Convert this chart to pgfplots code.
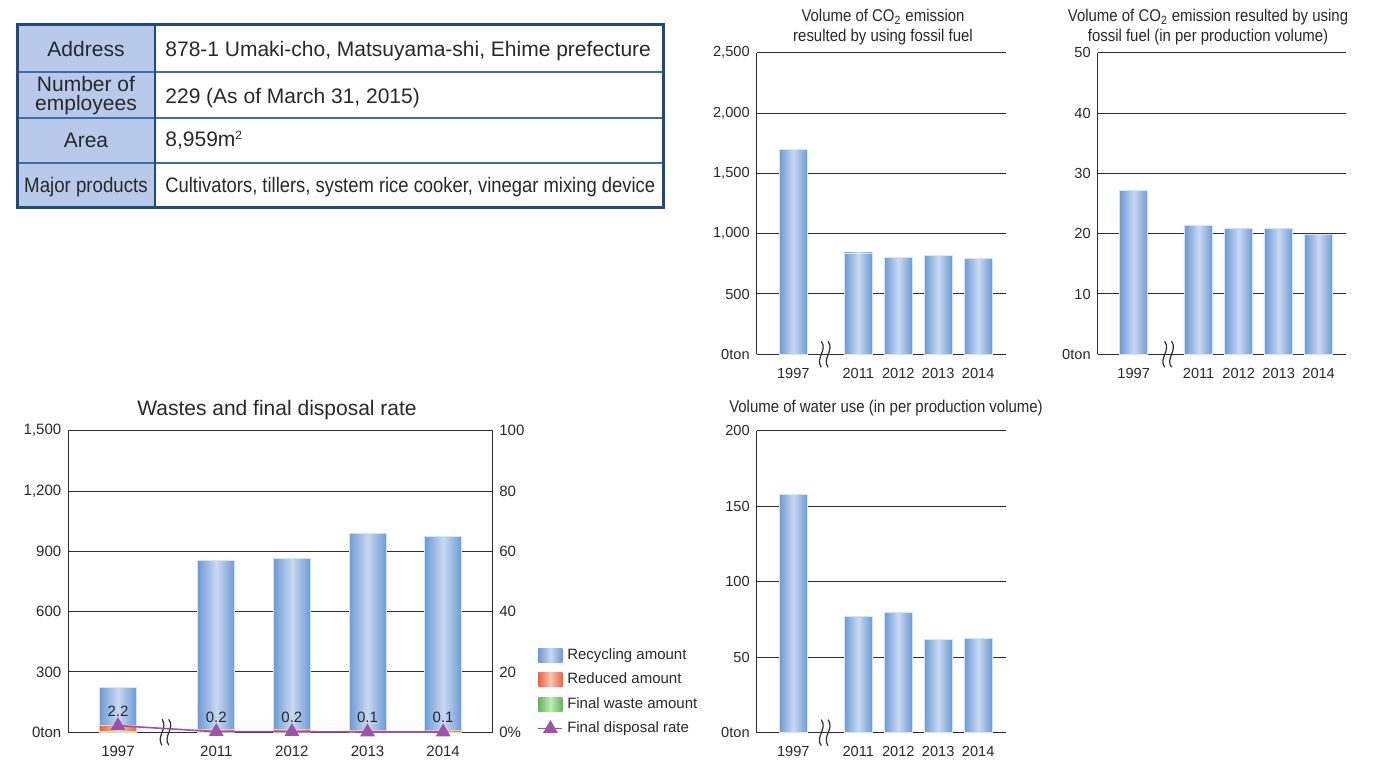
\documentclass[border=0pt]{standalone}
\usepackage{fontspec}
\setmainfont{Liberation Sans}
\usepackage{graphicx}
\usepackage{pgfplots}
\pgfplotsset{compat=1.18}

\definecolor{barE}{RGB}{108,154,214}
\definecolor{barC}{RGB}{202,217,241}
\definecolor{barL}{RGB}{215,228,246}
\definecolor{orE}{RGB}{238,98,66}
\definecolor{orC}{RGB}{250,196,176}
\definecolor{grE}{RGB}{98,184,88}
\definecolor{grC}{RGB}{196,232,186}
\definecolor{purp}{RGB}{158,82,168}
\definecolor{gridc}{RGB}{45,45,45}
\definecolor{textc}{RGB}{40,40,40}
\definecolor{tblfill}{RGB}{184,201,233}
\definecolor{tblborder}{RGB}{31,74,122}
\definecolor{tblline}{RGB}{62,110,165}

\newcommand{\tickfont}{\fontsize{7.3}{8}\selectfont}
\newcommand{\wtickfont}{\fontsize{7.5}{8.5}\selectfont}
\newcommand{\ttlfont}{\fontsize{8.5}{10}\selectfont}
\newcommand{\tblfont}{\fontsize{10.5}{9.5}\selectfont}
\newcommand{\cond}[1]{\scalebox{0.88}[1]{#1}}

% axis break sign on the x axis
\newcommand{\axbreak}[1]{%
  \draw[gridc, line width=0.6pt, shift={(axis cs:#1,0)}] (-1.8pt,6.5pt) .. controls (1.5pt,2pt) and (-5pt,-2pt) .. (-1.8pt,-6.5pt);
  \draw[gridc, line width=0.6pt, shift={(axis cs:#1,0)}] (1.6pt,6.5pt) .. controls (4.9pt,2pt) and (-1.6pt,-2pt) .. (1.6pt,-6.5pt);}

\pgfplotsset{
  envbar/.style={
    scale only axis, anchor=south west,
    axis x line*=bottom, axis y line*=left,
    axis line style={-, draw=gridc, line width=0.7pt},
    ymajorgrids, grid style={draw=gridc, line width=0.5pt},
    major tick length=0pt,
    ymin=0,
    xtick={0,1.625,2.625,3.625,4.625},
    xticklabels={1997,2011,2012,2013,2014},
    tick label style={font=\tickfont, text=textc},
    xticklabel style={yshift=-3.5pt},
    clip=false,
    /pgf/number format/assume math mode=true,
  },
  bluebar/.style={ybar, bar width=#1, draw=barL, line width=0.4pt,
    left color=barE, right color=barE, middle color=barC},
  bluebar/.default=0.7,
  redbar/.style={ybar, bar width=0.49, draw=orC, line width=0.4pt,
    left color=orE, right color=orE, middle color=orC},
  greenbar/.style={ybar, bar width=0.49, draw=grC, line width=0.4pt,
    left color=grE, right color=grE, middle color=grC},
  shadeleg/.style={legend image code/.code={\path[##1, draw=none] (0pt,-3.5pt) rectangle (12pt,3.5pt);}},
  rateleg/.style={legend image code/.code={\draw[mark repeat=2,mark phase=2,##1] plot coordinates {(0pt,0pt) (6pt,0pt) (12pt,0pt)};}},
}

\begin{document}
\begin{tikzpicture}[x=0.5pt,y=0.5pt]
\useasboundingbox (0,0) rectangle (1386,760);
\coordinate (pco2) at (756.7,405.7);
\coordinate (pco2u) at (1097.7,405.7);
\coordinate (pwat) at (756.7,27.3);
\coordinate (pwas) at (68.3,27.7);

% ---- company table
\fill[tblfill] (17,735) rectangle (155,552);
\foreach \yy in {688,642,597} \draw[tblline, line width=0.8pt] (17,\yy) -- (663,\yy);
\draw[tblborder, line width=1pt] (155,735) -- (155,552);
\draw[tblborder, line width=1.5pt] (17,735) rectangle (663,552);
\begin{scope}[every node/.style={font=\tblfont, text=textc, inner sep=0pt}]
\node[anchor=base] at (86,703) {Address};
\node[anchor=base] at (86,668) {Number of};
\node[anchor=base] at (86,649) {employees};
\node[anchor=base] at (86,612) {Area};
\node[anchor=base] at (86,567) {\scalebox{0.89}[1]{Major products}};
\node[anchor=base west] at (165,703) {878-1 Umaki-cho, Matsuyama-shi, Ehime prefecture};
\node[anchor=base west] at (165,656) {229 (As of March 31, 2015)};
\node[anchor=base west] at (165,613) {8,959m\textsuperscript{\fontsize{6}{6}\selectfont 2}};
\node[anchor=base west] at (165,567) {\scalebox{0.876}[1]{Cultivators, tillers, system rice cooker, vinegar mixing device}};
\end{scope}

% ---- titles
\node[font=\ttlfont, text=textc, align=center] at (883,733)
  {\cond{Volume of CO\textsubscript{2} emission}\\\cond{resulted by using fossil fuel}};
\node[font=\ttlfont, text=textc, align=center] at (1208,733)
  {\cond{Volume of CO\textsubscript{2} emission resulted by using}\\\cond{fossil fuel (in per production volume)}};
\node[font=\ttlfont, text=textc] at (886,352) {\cond{Volume of water use (in per production volume)}};
\node[font=\fontsize{10.5}{12}\selectfont, text=textc] at (277,350) {Wastes and final disposal rate};

% ---- CO2 emission
\begin{axis}[envbar, at={(pco2)}, width=124.65pt, height=150.8pt,
  xmin=-0.915, xmax=5.32, ymax=2500,
  ytick={0,500,1000,1500,2000,2500},
  yticklabels={0ton,500,{1,000},{1,500},{2,000},{2,500}}]
\addplot[bluebar] coordinates {(0,1700)};
\addplot[bluebar] coordinates {(1.625,840)};
\addplot[bluebar] coordinates {(2.625,800)};
\addplot[bluebar] coordinates {(3.625,823)};
\addplot[bluebar] coordinates {(4.625,793)};
\axbreak{0.79}
\end{axis}

% ---- CO2 emission per production volume
\begin{axis}[envbar, at={(pco2u)}, width=124.15pt, height=150.8pt,
  xmin=-0.9, xmax=5.31, ymax=50,
  ytick={0,10,20,30,40,50},
  yticklabels={0ton,10,20,30,40,50}]
\addplot[bluebar] coordinates {(0,27.1)};
\addplot[bluebar] coordinates {(1.625,21.3)};
\addplot[bluebar] coordinates {(2.625,20.8)};
\addplot[bluebar] coordinates {(3.625,20.9)};
\addplot[bluebar] coordinates {(4.625,19.9)};
\axbreak{0.865}
\end{axis}

% ---- water use
\begin{axis}[envbar, at={(pwat)}, width=124.65pt, height=151pt,
  xmin=-0.915, xmax=5.32, ymax=200,
  ytick={0,50,100,150,200},
  yticklabels={0ton,50,100,150,200}]
\addplot[bluebar] coordinates {(0,158)};
\addplot[bluebar] coordinates {(1.625,77)};
\addplot[bluebar] coordinates {(2.625,79.5)};
\addplot[bluebar] coordinates {(3.625,62)};
\addplot[bluebar] coordinates {(4.625,62.5)};
\axbreak{0.79}
\end{axis}

% ---- wastes: cumulative bar heights, tallest drawn first
\begin{axis}[at={(pwas)}, anchor=south west, scale only axis,
  width=212pt, height=150.8pt,
  xmin=-0.657, xmax=4.95, ymin=0, ymax=1500,
  axis line style={draw=gridc, line width=0.7pt},
  ymajorgrids, grid style={draw=gridc, line width=0.5pt},
  major tick length=0pt,
  xtick={0,1.3,2.3,3.3,4.3}, xticklabels={1997,2011,2012,2013,2014},
  ytick={0,300,600,900,1200,1500},
  yticklabels={0ton,300,600,900,{1,200},{1,500}},
  tick label style={font=\wtickfont, text=textc},
  xticklabel style={yshift=-3.5pt},
  ytick pos=left, xtick pos=bottom,
  /pgf/number format/assume math mode=true,
  clip=false,
]
% recycling + reduced + final waste
\addplot[bluebar=0.49] coordinates {(0,225)};
\addplot[bluebar=0.49] coordinates {(1.3,853)};
\addplot[bluebar=0.49] coordinates {(2.3,865)};
\addplot[bluebar=0.49] coordinates {(3.3,990)};
\addplot[bluebar=0.49] coordinates {(4.3,973)};
% reduced + final waste
\addplot[redbar] coordinates {(0,35)};
\addplot[redbar] coordinates {(1.3,12)};
\addplot[redbar] coordinates {(2.3,12)};
\addplot[redbar] coordinates {(3.3,11)};
\addplot[redbar] coordinates {(4.3,11)};
% final waste
\addplot[greenbar] coordinates {(0,5)};
\addplot[greenbar] coordinates {(1.3,2)};
\addplot[greenbar] coordinates {(2.3,2)};
\addplot[greenbar] coordinates {(3.3,1)};
\addplot[greenbar] coordinates {(4.3,1)};
\axbreak{0.63}
\end{axis}

% ---- final disposal rate (right axis), with the legend of the whole chart
\begin{axis}[at={(pwas)}, anchor=south west, scale only axis,
  width=212pt, height=150.8pt,
  xmin=-0.657, xmax=4.95, ymin=0, ymax=100,
  axis x line=none, axis y line*=right,
  axis line style={-, draw=gridc, line width=0.7pt},
  major tick length=0pt,
  ytick={0,20,40,60,80,100}, yticklabels={0\%,20,40,60,80,100},
  tick label style={font=\wtickfont, text=textc},
  /pgf/number format/assume math mode=true,
  clip=false,
  legend style={at={(1.106,0.293)}, anchor=north west, draw=none, fill=none,
    inner sep=0pt, row sep=1.3pt, font=\fontsize{7.5}{8.5}\selectfont, text=textc},
  legend cell align=left,
]
\addlegendimage{shadeleg, left color=barE, right color=barE, middle color=barC}
\addlegendentry{Recycling amount}
\addlegendimage{shadeleg, left color=orE, right color=orE, middle color=orC}
\addlegendentry{Reduced amount}
\addlegendimage{shadeleg, left color=grE, right color=grE, middle color=grC}
\addlegendentry{Final waste amount}
\addplot[rateleg, purp, line width=0.8pt, mark=triangle*, mark size=3.5pt,
  nodes near coords, point meta=explicit symbolic,
  every node near coord/.append style={font=\wtickfont, text=textc, yshift=1pt}]
  coordinates {(0,2.2)[2.2] (1.3,0.2)[0.2] (2.3,0.2)[0.2] (3.3,0.1)[0.1] (4.3,0.1)[0.1]};
\addlegendentry{Final disposal rate}
\end{axis}
\end{tikzpicture}
\end{document}
